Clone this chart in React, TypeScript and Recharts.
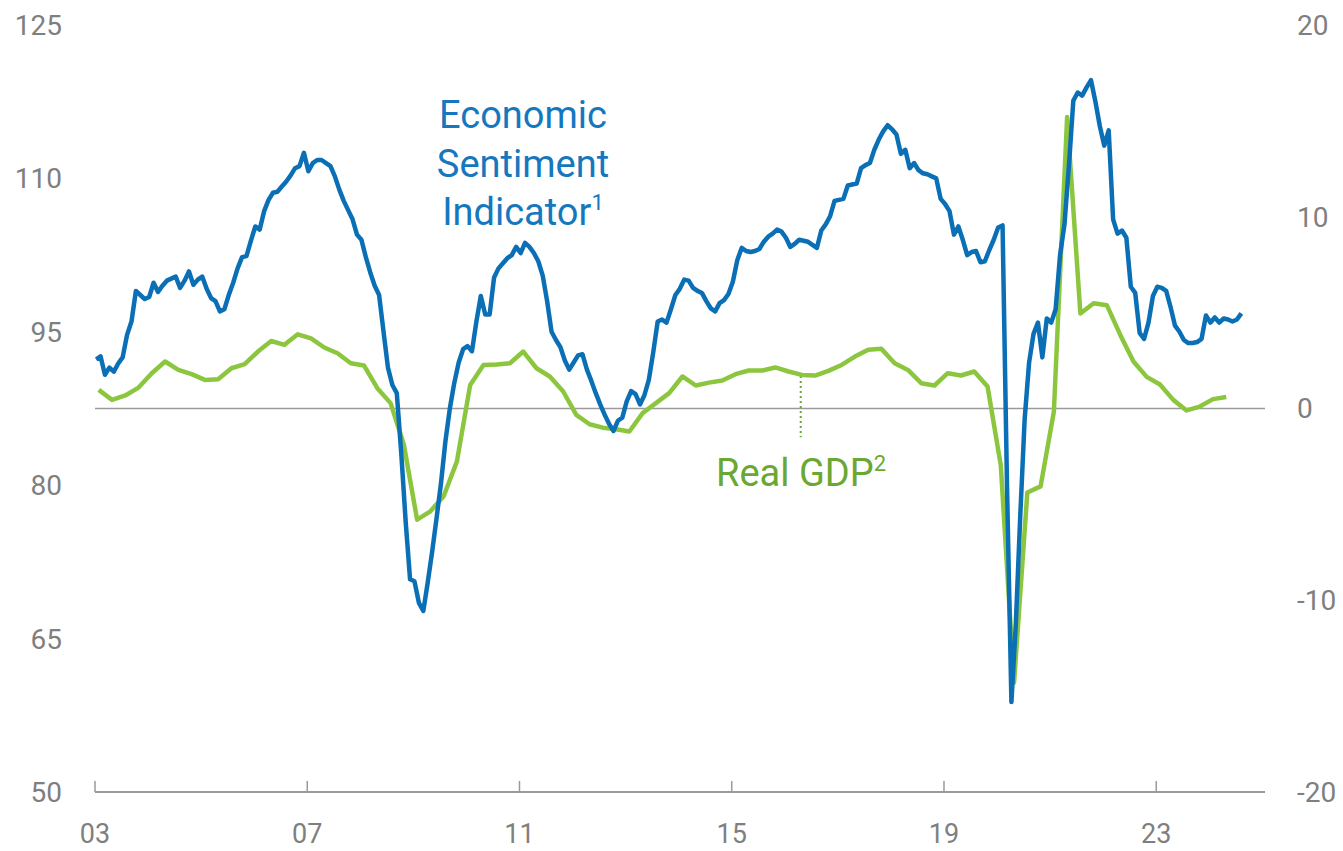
import React from 'react';
import { LineChart, Line, XAxis, YAxis, ReferenceLine } from 'recharts';

// Economic Sentiment Indicator, monthly, Jan 2003 – Aug 2024 (left axis)
const esiStartYear = 2003;
const esiValues = [
  92.3, 92.6, 90.8, 91.5, 91.1, 91.9, 92.5, 94.7, 96.0, 99.0, 98.6, 98.2, // 2003
  98.4, 99.8, 98.9, 99.5, 100.0, 100.2, 100.4, 99.3, 100.0, 100.9, 99.6, 100.1, // 2004
  100.4, 99.2, 98.3, 98.0, 97.0, 97.2, 98.6, 99.8, 101.2, 102.3, 102.4, 103.9, // 2005
  105.3, 105.0, 106.8, 107.9, 108.6, 108.7, 109.2, 109.7, 110.3, 111.0, 111.2, 112.5, // 2006
  110.7, 111.5, 111.8, 111.8, 111.5, 111.2, 110.2, 108.9, 107.8, 106.9, 106.0, 104.5, // 2007
  104.0, 102.3, 100.8, 99.5, 98.6, 95.0, 91.5, 89.8, 89.0, 83.2, 76.5, 70.8, // 2008
  70.6, 68.5, 67.7, 70.5, 73.5, 76.8, 80.2, 84.3, 87.5, 90.0, 92.0, 93.3, // 2009
  93.6, 93.1, 96.0, 98.5, 96.7, 96.7, 100.3, 101.2, 101.7, 102.2, 102.5, 103.3, // 2010
  102.7, 103.7, 103.3, 102.7, 101.9, 100.5, 98.0, 95.0, 94.2, 93.5, 92.2, 91.3, // 2011
  92.0, 92.7, 92.8, 91.3, 90.2, 89.0, 87.9, 86.9, 86.0, 85.3, 86.3, 86.6, // 2012
  88.2, 89.2, 88.9, 87.9, 88.8, 90.3, 93.0, 96.0, 96.2, 95.9, 97.2, 98.6, // 2013
  99.2, 100.1, 100.0, 99.3, 99.0, 98.8, 98.0, 97.3, 97.0, 97.8, 98.1, 98.7, // 2014
  99.9, 102.0, 103.2, 102.9, 102.8, 102.9, 103.1, 103.8, 104.3, 104.6, 105.0, 104.8, // 2015
  104.2, 103.3, 103.6, 104.0, 103.9, 103.8, 103.5, 103.2, 104.9, 105.5, 106.3, 107.8, // 2016
  107.9, 108.0, 109.3, 109.4, 109.5, 111.0, 111.3, 111.5, 112.8, 113.8, 114.6, 115.2, // 2017
  114.8, 114.3, 112.4, 112.8, 111.0, 111.5, 110.8, 110.5, 110.4, 110.2, 110.0, 108.0, // 2018
  107.5, 106.8, 104.5, 105.3, 104.0, 102.5, 102.8, 102.9, 101.8, 101.9, 103.0, 104.0, // 2019
  105.2, 105.4, 80.0, 58.8, 66.5, 77.0, 86.5, 92.0, 94.8, 95.9, 92.5, 96.3, // 2020
  95.9, 97.2, 102.5, 105.5, 111.2, 117.6, 118.4, 118.1, 118.9, 119.6, 117.5, 115.1, // 2021
  113.2, 114.7, 106.0, 104.6, 104.9, 104.2, 99.4, 98.8, 94.9, 94.3, 95.9, 98.5, // 2022
  99.4, 99.3, 99.0, 97.4, 95.6, 95.0, 94.2, 93.9, 93.9, 94.0, 94.3, 96.6, // 2023
  95.9, 96.4, 95.9, 96.3, 96.2, 96.0, 96.2, 96.8, // 2024
];

// Real GDP, % y/y, quarterly, Q1 2003 – Q2 2024 (right axis)
const gdpStartYear = 2003;
const gdpValues = [
  0.97, 0.45, 0.68, 1.09, // 2003
  1.84, 2.45, 2.01, 1.79, // 2004
  1.49, 1.53, 2.1, 2.31, // 2005
  2.97, 3.52, 3.32, 3.87, // 2006
  3.66, 3.18, 2.88, 2.36, // 2007
  2.24, 1.06, 0.28, -1.89, // 2008
  -5.8, -5.36, -4.58, -2.76, // 2009
  1.23, 2.27, 2.3, 2.36, // 2010
  2.97, 2.1, 1.67, 0.9, // 2011
  -0.33, -0.82, -1.0, -1.08, // 2012
  -1.2, -0.24, 0.28, 0.8, // 2013
  1.67, 1.2, 1.35, 1.46, // 2014
  1.79, 1.98, 1.98, 2.14, // 2015
  1.93, 1.75, 1.72, 1.96, // 2016
  2.27, 2.71, 3.06, 3.11, // 2017
  2.36, 2.01, 1.32, 1.2, // 2018
  1.84, 1.72, 1.93, 1.15, // 2019
  -2.97, -14.3, -4.38, -4.06, // 2020
  -0.16, 15.2, 4.95, 5.49, // 2021
  5.38, 3.85, 2.45, 1.65, // 2022
  1.25, 0.45, -0.1, 0.1, // 2023
  0.49, 0.6, // 2024
];

const xTicks = [2003, 2007, 2011, 2015, 2019, 2023];
const leftTicks = [50, 65, 80, 95, 110, 125];
const rightTicks = [-20, -10, 0, 10, 20];

// label pointer for the GDP annotation
const gdpPointerX = 2016.3;
const gdpPointerTop = 1.7;
const gdpPointerBottom = -1.5;

const BLUE = '#0b6fb6';
const GREEN = '#8cc63f';
const GREY = '#7f7f7f';
const FONT = 'Roboto, "Open Sans", sans-serif';

// months/quarters sit at a small offset inside their period
const esiData = esiValues.map((v, i) => ({ t: esiStartYear + (i + 0.25) / 12, esi: v }));
const gdpData = gdpValues.map((v, i) => ({ t: gdpStartYear + (i * 3 + 0.85) / 12, gdp: v }));

const X_TICK_MARGIN = 32;

const YearTick = (props: any) => {
  const { x, y, payload } = props;
  const axisY = y - X_TICK_MARGIN;
  return (
    <g>
      <line x1={x} x2={x} y1={axisY} y2={axisY - 11} stroke="#9a9a9a" strokeWidth={1.5} />
      <text x={x} y={y} dy="0.71em" textAnchor="middle" fill={GREY} fontSize={27} fontFamily={FONT}>
        {String(payload.value).slice(2)}
      </text>
    </g>
  );
};

export default function App() {
  return (
    <div style={{ position: 'absolute', left: 0, top: 0, width: 1343, height: 851, background: '#fff' }}>
      <LineChart width={1343} height={851} margin={{ top: 25, right: 0, bottom: 0, left: 0 }}>
        <XAxis
          type="number"
          dataKey="t"
          domain={[2003, 2025.05]}
          ticks={xTicks}
          allowDataOverflow
          height={59}
          tickLine={false}
          tickSize={0}
          tickMargin={X_TICK_MARGIN}
          axisLine={{ stroke: '#9a9a9a', strokeWidth: 2 }}
          tick={<YearTick />}
        />
        <YAxis
          yAxisId="left"
          domain={[50, 125]}
          ticks={leftTicks}
          width={95}
          axisLine={false}
          tickLine={false}
          tickSize={0}
          tickMargin={33}
          tick={{ fill: GREY, fontSize: 28, fontFamily: FONT }}
        />
        <YAxis
          yAxisId="right"
          orientation="right"
          domain={[-20, 20]}
          ticks={rightTicks}
          width={78}
          axisLine={false}
          tickLine={false}
          tickSize={0}
          tickMargin={32}
          tick={{ fill: GREY, fontSize: 28, fontFamily: FONT, textAnchor: 'start' }}
        />
        <ReferenceLine yAxisId="right" y={0} stroke="#9a9a9a" strokeWidth={1.5} />
        <ReferenceLine
          yAxisId="right"
          segment={[{ x: gdpPointerX, y: gdpPointerTop }, { x: gdpPointerX, y: gdpPointerBottom }]}
          stroke="#6aa632"
          strokeWidth={2}
          strokeDasharray="2 3"
        />
        <Line
          yAxisId="right"
          data={gdpData}
          dataKey="gdp"
          type="linear"
          stroke={GREEN}
          strokeWidth={4.5}
          dot={false}
          activeDot={false}
          strokeLinejoin="round"
          isAnimationActive={false}
        />
        <Line
          yAxisId="left"
          data={esiData}
          dataKey="esi"
          type="linear"
          stroke={BLUE}
          strokeWidth={4.5}
          dot={false}
          activeDot={false}
          strokeLinejoin="round"
          isAnimationActive={false}
        />
      </LineChart>
      <svg
        width={1343}
        height={851}
        style={{ position: 'absolute', left: 0, top: 0, pointerEvents: 'none' }}
        fontFamily={FONT}
      >
        <g fill="#1578be" fontSize={38} textAnchor="middle">
          <text x={523} y={128}>Economic</text>
          <text x={523} y={177}>Sentiment</text>
          <text x={523} y={225}>
            Indicator<tspan fontSize={22} dy={-15}>1</tspan>
          </text>
        </g>
        <text x={716} y={486} fill="#6aa832" fontSize={38}>
          Real GDP<tspan fontSize={22} dy={-15}>2</tspan>
        </text>
      </svg>
    </div>
  );
}
